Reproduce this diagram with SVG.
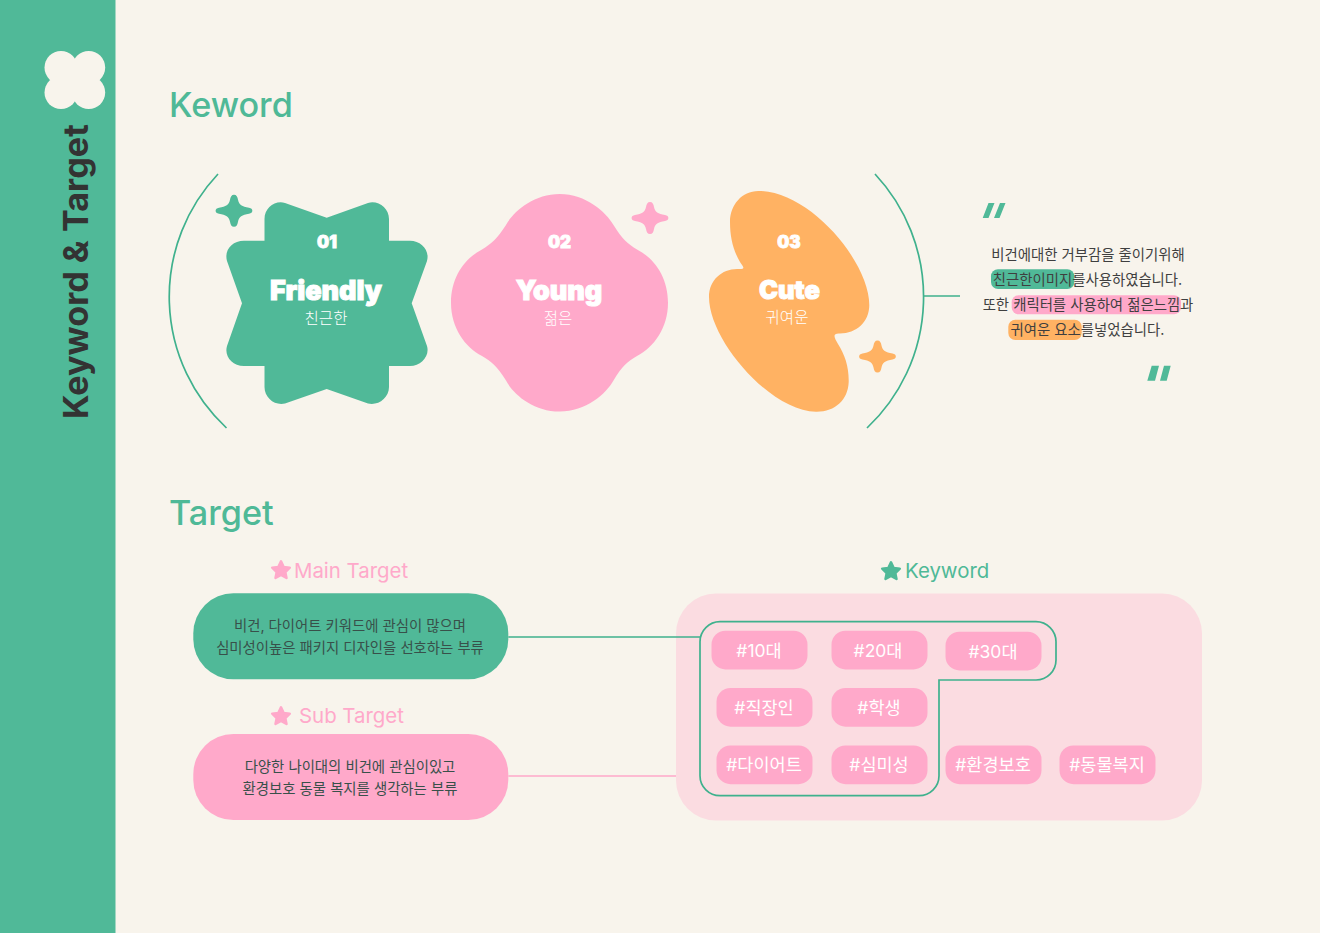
<svg xmlns="http://www.w3.org/2000/svg" width="1320" height="933" viewBox="0 0 1320 933">
<style>
text{font-family:"Inter","Noto Sans CJK KR","Noto Sans",sans-serif}
.h1{font-size:34.200px;font-weight:500;fill:#4fb997}
.h2{font-size:20.400px;font-weight:400}
.num{font-size:17px;font-weight:900;fill:#fff;stroke:#fff;stroke-width:.8px;text-anchor:middle}
.big{font-size:27px;font-weight:900;fill:#fff;stroke:#fff;stroke-width:1px;text-anchor:middle}
.sub{font-size:15.500px;font-weight:300;fill:#fff;text-anchor:middle}
.body{font-size:14.400px;font-weight:400;fill:#3f3f3f;text-anchor:middle}
.pill{font-size:14.400px;font-weight:400;fill:#38504a;text-anchor:middle}
.tag rect{fill:#ffa9ca}
.tag text{font-size:17.500px;font-weight:400;fill:#fff;text-anchor:middle}
.g{fill:#50b998}.p{fill:#ffa9ca}.o{fill:#ffb263}
.ln{fill:none;stroke:#3fb18d;stroke-width:1.700}
</style>
<defs>
<path id="spark" d="M0-16C2.500-16 3.500-14 4-11 5-6 8-4 15-3 19.500-2.500 19.500 2.500 15 3 8 4 5 6 4 11 3.500 14 2.500 16 0 16-2.500 16-3.500 14-4 11-5 6-8 4-15 3-19.500 2.500-19.500-2.500-15-3-8-4-5-6-4-11-3.500-14-2.500-16 0-16Z"/>
<path id="star" d="M0-8.600 2.700-3 8.800-2.300 4.300 2 5.500 8 0 5 -5.500 8 -4.300 2 -8.800-2.300 -2.700-3Z" stroke-width="2.500" stroke-linejoin="round"/>
</defs>
<rect width="1320" height="933" fill="#f8f4ec"/>
<g id="sidebar">
<rect width="115.500" height="933" class="g"/>
<g fill="#f8f4ec"><circle cx="61" cy="67.500" r="16.500"/><circle cx="88.700" cy="67.500" r="16.500"/><circle cx="61" cy="92.500" r="16.500"/><circle cx="88.700" cy="92.500" r="16.500"/><rect x="58" y="62" width="34" height="36"/></g>
<text transform="translate(87.500 419) rotate(-90)" font-size="34.200" font-weight="700" fill="#333">Keyword &amp; Target</text>
</g>
<text class="h1" x="169" y="117">Keword</text>
<text class="h1" x="169" y="524.500">Target</text>
<g id="node-friendly">
<path class="g" d="M326.700 217.700 368 203C378 200 389 208 389 219V240.700H410C421 240.700 430 250 427 261L411.700 303.300 427 346C430 356 421 366 410 366H389V387C389 398 378 406 368 403.500L326.700 389 285 403.500C275 406 264.500 398 264.500 387V366H244C232 366 224 356 227 346L242 303.300 227 261C224 250 232 240.700 244 240.700H264.500V219C264.500 208 275 200 285 203Z"/>
<use href="#spark" class="g" x="234" y="210.700"/>
<text class="num" x="327" y="248">01</text><text class="big" x="326" y="300">Friendly</text><text class="sub" x="326" y="323.500">친근한</text>
</g>
<g id="node-young">
<path class="p" d="M559.700 194C586 194 606 212 613.500 225 622 239 628 244 637 249.500 654 258 668 277 668 302.700 668 328 654 347 637 356 628 361 622 366 613.500 380.500 606 394 586 411.500 559.700 411.500 533 411.500 513 394 506 380.500 497 366 491 361 482 356 465 347 451 328 451 302.700 451 277 465 258 482 249.500 491 244 497 239 506 225 513 212 533 194 559.700 194Z"/>
<use href="#spark" class="p" x="650" y="218"/>
<text class="num" x="559.500" y="248">02</text><text class="big" x="559" y="300">Young</text><text class="sub" x="558" y="323.500">젊은</text>
</g>
<g id="node-cute">
<path class="o" d="M758.300 191C810 191 869.300 262 869.300 305 869.300 322 856 333.500 840 333.500 832 333 834 337 838 344 845 355 849 367 848.700 382 848 400 835 412 816 411.700 770 411 709 340 709 297 709 280 722 269 737 269 746 269.500 744 268 740 262 733 250 730 237 730 222 730 205 742 191 758.300 191Z"/>
<use href="#spark" class="o" x="877.500" y="356.500"/>
<text class="num" x="789" y="248">03</text><text class="big" x="789.500" y="299" style="font-size:25.500px">Cute</text><text class="sub" x="787" y="322.500">귀여운</text>
</g>
<g id="quote">
<path class="g" d="M982.700 218 988.500 203H994.500L988.500 218ZM994 218 1000 203H1005.500L999.500 218ZM1147.300 380.700 1151.700 365.700H1159L1155 380.700ZM1160 380.700 1164 365.700H1170.700L1166.700 380.700Z"/>
<rect class="g" x="991" y="269.300" width="83.300" height="19.700" rx="7"/>
<rect class="p" x="1011.700" y="295.300" width="169.300" height="19" rx="7"/>
<rect class="o" x="1008.300" y="319.700" width="73.400" height="20.300" rx="7"/>
<text class="body" x="1088" y="260">비건에대한 거부감을 줄이기위해</text>
<text class="body" x="1087.500" y="285">친근한이미지를사용하였습니다.</text>
<text class="body" x="1088" y="310">또한 캐릭터를 사용하여 젊은느낌과</text>
<text class="body" x="1087.500" y="335">귀여운 요소를넣었습니다.</text>
</g>
<g id="node-main">
<use href="#star" class="p" stroke="#ffa9ca" x="281" y="570"/>
<text class="h2 p" x="294" y="578">Main Target</text>
<rect class="g" x="193.300" y="593.300" width="315" height="86" rx="40"/>
<text class="pill" x="350" y="631">비건, 다이어트 키워드에 관심이  많으며</text>
<text class="pill" x="350" y="653">심미성이높은 패키지 디자인을 선호하는 부류</text>
</g>
<g id="node-sub">
<use href="#star" class="p" stroke="#ffa9ca" x="281" y="716"/>
<text class="h2 p" x="299" y="723">Sub Target</text>
<rect class="p" x="193.300" y="734" width="315" height="86" rx="40"/>
<text class="pill" x="350" y="772">다양한 나이대의 비건에 관심이있고</text>
<text class="pill" x="350" y="794">환경보호 동물 복지를 생각하는 부류</text>
</g>
<g id="node-keyword">
<use href="#star" class="g" stroke="#50b998" x="891" y="571"/>
<text class="h2" fill="#4fb997" x="905" y="578">Keyword</text>
<rect x="676" y="593.500" width="526" height="227" rx="40" fill="#fbdce1"/>
<path class="ln" d="M720 621.700H1036a20 20 0 0 1 20 20V660a20 20 0 0 1-20 20H939V775.700a20 20 0 0 1-20 20H720a20 20 0 0 1-20-20V641.700a20 20 0 0 1 20-20Z"/>
<g class="tag" id="tag-10"><rect x="711.500" y="630.700" width="96" height="38.700" rx="14"/><text x="759" y="656.500">#10대</text></g>
<g class="tag" id="tag-20"><rect x="831.500" y="630.700" width="96" height="38.700" rx="14"/><text x="878" y="656.500">#20대</text></g>
<g class="tag" id="tag-30"><rect x="945.500" y="631.700" width="96" height="38.700" rx="14"/><text x="993" y="657.500">#30대</text></g>
<g class="tag" id="tag-worker"><rect x="716.500" y="688" width="96" height="38.700" rx="14"/><text x="764" y="713.500">#직장인</text></g>
<g class="tag" id="tag-student"><rect x="831.500" y="688" width="96" height="38.700" rx="14"/><text x="879" y="713.500">#학생</text></g>
<g class="tag" id="tag-diet"><rect x="716.500" y="745.500" width="96" height="38.700" rx="14"/><text x="764" y="771">#다이어트</text></g>
<g class="tag" id="tag-aesthetic"><rect x="831.500" y="745.500" width="96" height="38.700" rx="14"/><text x="879" y="771">#심미성</text></g>
<g class="tag" id="tag-env"><rect x="945.500" y="745.500" width="96" height="38.700" rx="14"/><text x="993" y="771">#환경보호</text></g>
<g class="tag" id="tag-animal"><rect x="1059.500" y="745.500" width="96" height="38.700" rx="14"/><text x="1107" y="771">#동물복지</text></g>
</g>
<g id="connectors">
<path class="ln" d="M218 174A179 179 0 0 0 226.500 428"/>
<path class="ln" d="M875 174A180 180 0 0 1 867 428"/>
<path class="ln" d="M924 296H960"/>
<path class="ln" d="M508.300 637H700"/>
<path d="M508.300 776H676" fill="none" stroke="#ffa9ca" stroke-width="1.700"/>
</g>
</svg>
